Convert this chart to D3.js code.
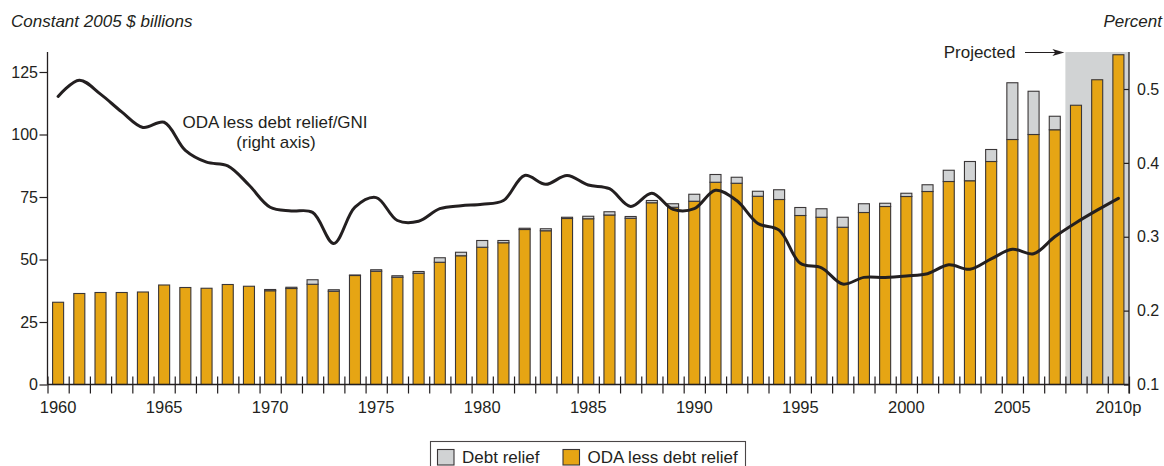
<!DOCTYPE html>
<html>
<head>
<meta charset="utf-8">
<script src="https://cdn.jsdelivr.net/npm/d3@7"></script>
<style>
  html, body { margin: 0; padding: 0; background: #fff; }
  svg { display: block; font-family: "Liberation Sans", Arial, Helvetica, sans-serif; }
</style>
</head>
<body>
<svg id="chart" width="1164" height="466"></svg>
<script>
// Official development assistance, 1960-2010 (2008-2010 projected)
const years = d3.range(1960, 2011);

// ODA less debt relief, constant 2005 $ billions
const odaLessDebt = [
  32.9, 36.4, 36.8, 36.8, 37.0, 39.8, 38.8, 38.5, 40.0, 39.3,
  37.5, 38.4, 40.1, 37.3, 43.6, 45.3, 42.9, 44.5, 48.9, 51.5,
  54.9, 56.7, 62.0, 61.5, 66.4, 66.3, 67.8, 66.5, 72.7, 70.9,
  73.3, 80.9, 80.5, 75.3, 74.0, 67.6, 66.9, 62.9, 68.8, 71.2,
  75.2, 77.2, 81.2, 81.5, 89.2, 98.0, 100.0, 101.9, 111.7, 121.9,
  131.9
];

// Debt relief, constant 2005 $ billions
const debtRelief = [
  0, 0, 0, 0, 0, 0, 0, 0, 0, 0,
  0.5, 0.5, 1.8, 0.6, 0.2, 0.6, 0.6, 0.7, 1.8, 1.4,
  2.7, 0.9, 0.5, 0.8, 0.5, 1.0, 1.3, 0.7, 0.9, 1.4,
  2.8, 3.1, 2.4, 2.0, 3.9, 3.2, 3.4, 4.0, 3.5, 1.3,
  1.3, 2.7, 4.5, 7.7, 4.8, 22.7, 17.3, 5.4, 0, 0,
  0
];

// ODA less debt relief as a share of GNI, percent
const odaGniPct = [
  0.490, 0.512, 0.493, 0.469, 0.448, 0.455, 0.417, 0.401, 0.396, 0.370,
  0.340, 0.335, 0.333, 0.291, 0.340, 0.353, 0.322, 0.321, 0.338, 0.342,
  0.344, 0.349, 0.383, 0.371, 0.383, 0.370, 0.365, 0.341, 0.359, 0.337,
  0.338, 0.363, 0.349, 0.318, 0.309, 0.264, 0.258, 0.236, 0.245, 0.245,
  0.247, 0.250, 0.262, 0.256, 0.270, 0.283, 0.277, 0.300, 0.319, 0.336,
  0.352
];

const firstProjectedYear = 2008;
const labelYears = [1960, 1965, 1970, 1975, 1980, 1985, 1990, 1995, 2000, 2005, 2010];
const leftTicks = [0, 25, 50, 75, 100, 125];
const rightTicks = [0.1, 0.2, 0.3, 0.4, 0.5];

const INK = "#231f20";
const ORANGE = "#e6a514";
const GREY = "#d1d3d4";
const BAR_STROKE = "#3a3637";

const svg = d3.select("#chart");

const x0 = 47.5, x1 = 1129, yBase = 384.5, yTop = 52;

const xBand = d3.scaleBand().domain(years).range([x0, x1])
  .paddingInner(0.48).paddingOuter(0.24);
const xEdge = d3.scaleLinear().domain([1959.5, 2010.5]).range([x0, x1]);
const yLeft = d3.scaleLinear().domain([0, 125]).range([yBase, 72]);
const yRight = d3.scaleLinear().domain([0.1, 0.5]).range([yBase, 89]);

// projected period shading
svg.append("rect")
  .attr("x", xEdge(firstProjectedYear - 0.5))
  .attr("y", yTop)
  .attr("width", x1 - xEdge(firstProjectedYear - 0.5))
  .attr("height", yBase - yTop)
  .attr("fill", GREY);

// stacked bars
const rows = years.map((yr, i) => ({ yr, oda: odaLessDebt[i], debt: debtRelief[i] }));
const bars = svg.append("g");
bars.selectAll("rect.oda").data(rows).join("rect")
  .attr("class", "oda")
  .attr("x", d => xBand(d.yr))
  .attr("width", xBand.bandwidth())
  .attr("y", d => yLeft(d.oda))
  .attr("height", d => yBase - yLeft(d.oda))
  .attr("fill", ORANGE)
  .attr("stroke", BAR_STROKE)
  .attr("stroke-width", 1.1);
bars.selectAll("rect.debt").data(rows.filter(d => d.debt > 0)).join("rect")
  .attr("class", "debt")
  .attr("x", d => xBand(d.yr))
  .attr("width", xBand.bandwidth())
  .attr("y", d => yLeft(d.oda + d.debt))
  .attr("height", d => yLeft(d.oda) - yLeft(d.oda + d.debt))
  .attr("fill", GREY)
  .attr("stroke", BAR_STROKE)
  .attr("stroke-width", 1.1);

// ratio line on the right axis
const line = d3.line()
  .x((d, i) => xBand(years[i]) + xBand.bandwidth() / 2)
  .y(d => yRight(d))
  .curve(d3.curveCatmullRom.alpha(0.5));
svg.append("path")
  .datum(odaGniPct)
  .attr("d", line)
  .attr("fill", "none")
  .attr("stroke", INK)
  .attr("stroke-width", 3)
  .attr("stroke-linejoin", "round")
  .attr("stroke-linecap", "round");

// x axis: baseline, year-boundary ticks, labels
svg.append("line")
  .attr("x1", x0).attr("x2", x1).attr("y1", yBase).attr("y2", yBase)
  .attr("stroke", INK).attr("stroke-width", 1.3);

const edgeAxis = svg.append("g")
  .attr("transform", `translate(0,${yBase})`)
  .call(d3.axisBottom(xEdge)
    .tickValues(d3.range(1959.5, 2011, 1))
    .tickFormat("")
    .tickSizeInner(9).tickSizeOuter(0));
edgeAxis.select(".domain").remove();
edgeAxis.selectAll(".tick line").attr("y1", -8).attr("stroke", INK).attr("stroke-width", 1.2);

const labelAxis = svg.append("g")
  .attr("transform", `translate(0,${yBase})`)
  .call(d3.axisBottom(xBand)
    .tickValues(labelYears)
    .tickFormat(d => d === 2010 ? "2010p" : String(d))
    .tickSize(0).tickPadding(17));
labelAxis.select(".domain").remove();
labelAxis.selectAll("text")
  .attr("font-size", 16.5).attr("fill", INK).attr("font-family", null);

// left axis
svg.append("line")
  .attr("x1", x0).attr("x2", x0).attr("y1", yTop).attr("y2", yBase)
  .attr("stroke", INK).attr("stroke-width", 1.3);
const leftAxis = svg.append("g")
  .attr("transform", `translate(${x0},0)`)
  .call(d3.axisLeft(yLeft).tickValues(leftTicks).tickSizeInner(8).tickSizeOuter(0).tickPadding(1.5));
leftAxis.select(".domain").remove();
leftAxis.selectAll(".tick line").attr("stroke", INK).attr("stroke-width", 1.2);
leftAxis.selectAll("text").attr("font-size", 16).attr("fill", INK).attr("font-family", null);

// right axis
svg.append("line")
  .attr("x1", x1).attr("x2", x1).attr("y1", yTop).attr("y2", yBase + 9)
  .attr("stroke", INK).attr("stroke-width", 1.3);
const rightAxis = svg.append("g")
  .attr("transform", `translate(${x1},0)`)
  .call(d3.axisRight(yRight).tickValues(rightTicks).tickFormat(d3.format(".1f"))
    .tickSizeInner(-5).tickSizeOuter(0).tickPadding(8));
rightAxis.select(".domain").remove();
rightAxis.selectAll(".tick line").attr("stroke", INK).attr("stroke-width", 1.2);
rightAxis.selectAll("text").attr("font-size", 16).attr("fill", INK).attr("font-family", null);

// axis titles
svg.append("text")
  .attr("x", 11).attr("y", 26.5)
  .attr("font-size", 17).attr("font-style", "italic").attr("fill", INK)
  .text("Constant 2005 $ billions");
svg.append("text")
  .attr("x", 1162).attr("y", 26.5).attr("text-anchor", "end")
  .attr("font-size", 17).attr("font-style", "italic").attr("fill", INK)
  .text("Percent");

// line annotation
const note = svg.append("text")
  .attr("text-anchor", "middle").attr("font-size", 17).attr("fill", INK);
note.append("tspan").attr("x", 275).attr("y", 128).text("ODA less debt relief/GNI");
note.append("tspan").attr("x", 276).attr("y", 148).text("(right axis)");

// projected marker
const projX = xEdge(firstProjectedYear - 0.5);
svg.append("text")
  .attr("x", 1015.5).attr("y", 58.3).attr("text-anchor", "end")
  .attr("font-size", 17).attr("fill", INK)
  .text("Projected");
svg.append("line")
  .attr("x1", 1025).attr("x2", projX - 8).attr("y1", 52.5).attr("y2", 52.5)
  .attr("stroke", INK).attr("stroke-width", 1.2);
svg.append("path")
  .attr("d", `M${projX - 1},52.5 L${projX - 13},49 L${projX - 10},52.5 L${projX - 13},56 Z`)
  .attr("fill", INK);

// legend
const lg = svg.append("g");
lg.append("rect")
  .attr("x", 430.5).attr("y", 441.5).attr("width", 315).attr("height", 34)
  .attr("fill", "#fff").attr("stroke", "#4a4647").attr("stroke-width", 1.1);
const legendItems = [
  { label: "Debt relief", color: GREY, x: 437.5 },
  { label: "ODA less debt relief", color: ORANGE, x: 563 }
];
legendItems.forEach(it => {
  lg.append("rect")
    .attr("x", it.x).attr("y", 449.5).attr("width", 16.5).attr("height", 15.5)
    .attr("fill", it.color).attr("stroke", BAR_STROKE).attr("stroke-width", 1.1);
  lg.append("text")
    .attr("x", it.x + 24.5).attr("y", 463)
    .attr("font-size", 17).attr("fill", INK)
    .text(it.label);
});
</script>
</body>
</html>
